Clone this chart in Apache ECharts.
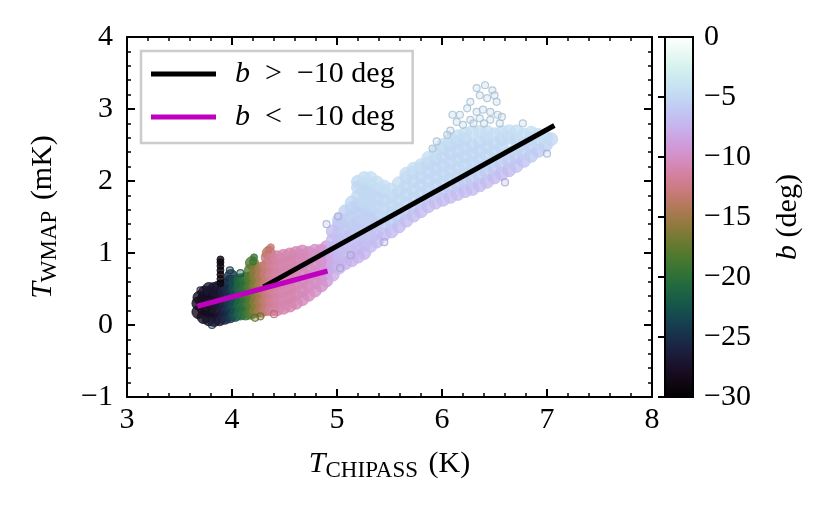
<!DOCTYPE html>
<html><head><meta charset="utf-8">
<script src="https://cdn.jsdelivr.net/npm/echarts@6/dist/echarts.min.js"></script>
<style>html,body{margin:0;padding:0;background:#fff}#c{width:832px;height:510px}</style>
</head><body><div id="c"></div>
<script>
// ---- axis limits / tick values ----
const xLimits = [3, 8];
const yLimits = [-1, 4];
const bLimits = [-30, 0];
const xTickStep = 1, yTickStep = 1, bTickStep = 5;

// ---- fitted lines (T_CHIPASS, T_WMAP) ----
const fitHigh = [[4.30, 0.53], [7.07, 2.77]];   // b > -10 deg
const fitLow  = [[3.67, 0.26], [4.91, 0.75]];   // b < -10 deg

// ---- scatter points [T_CHIPASS, T_WMAP, b] ----
const darkPts = [
 [3.68,0.18,-28],[3.68,0.30,-28],[3.69,0.38,-28],
 [3.73,0.11,-28],[3.73,0.23,-28],[3.73,0.35,-28],[3.74,0.45,-28],
 [3.78,0.08,-27.5],[3.78,0.20,-28],[3.78,0.32,-27.5],[3.79,0.44,-28],[3.78,0.50,-27],
 [3.83,0.07,-27],[3.83,0.19,-28],[3.83,0.31,-27],[3.84,0.43,-28],[3.83,0.50,-27],
 [3.88,0.08,-27],[3.88,0.20,-27],[3.88,0.32,-26.5],[3.88,0.44,-27],[3.87,0.52,-27],
 [3.93,0.10,-26],[3.93,0.22,-26],[3.93,0.34,-25.5],[3.93,0.46,-26],[3.94,0.55,-25.5],
 [3.98,0.12,-25],[3.98,0.24,-24.5],[3.98,0.36,-24],[3.98,0.48,-25],[3.98,0.60,-25],[3.99,0.68,-25]
];
const greenPts = [
 [4.03,0.14,-23],[4.03,0.26,-23],[4.03,0.38,-23],[4.03,0.50,-23],[4.03,0.60,-23],
 [4.08,0.16,-21],[4.08,0.28,-21],[4.08,0.40,-21],[4.08,0.52,-21],[4.08,0.62,-21],
 [4.13,0.16,-20],[4.13,0.28,-20],[4.13,0.40,-19.5],[4.13,0.52,-20],[4.13,0.64,-20],
 [4.18,0.17,-18],[4.18,0.29,-18],[4.18,0.41,-18],[4.18,0.53,-18],[4.18,0.65,-18],[4.18,0.76,-18],[4.19,0.86,-18]
];
const brownPts = [
 [4.23,0.20,-16],[4.23,0.32,-16],[4.23,0.44,-16],[4.23,0.56,-16],[4.23,0.68,-16],[4.23,0.76,-16],
 [4.28,0.20,-14.5],[4.28,0.32,-14.5],[4.28,0.44,-14.5],[4.28,0.56,-14.5],[4.28,0.68,-14.5],[4.28,0.78,-14.5],
 [4.33,0.22,-13],[4.33,0.34,-13],[4.33,0.46,-13],[4.33,0.58,-13],[4.33,0.70,-13],[4.33,0.82,-13],[4.34,0.94,-13],[4.35,1.00,-13.5],
 [4.38,0.22,-12],[4.38,0.34,-12],[4.38,0.46,-12],[4.38,0.58,-12],[4.38,0.70,-12],[4.38,0.82,-12],[4.38,0.92,-12]
];
const pinkPts = [
 [4.43,0.22,-11.5],[4.43,0.34,-11.5],[4.43,0.46,-11.5],[4.43,0.58,-11.5],[4.43,0.70,-11.5],[4.43,0.82,-11.5],[4.43,0.94,-11.5],
 [4.49,0.24,-11],[4.49,0.36,-11],[4.49,0.48,-11],[4.49,0.60,-11],[4.49,0.72,-11],[4.49,0.84,-11],[4.49,0.96,-11],
 [4.55,0.27,-11],[4.55,0.39,-11],[4.55,0.51,-11],[4.55,0.63,-11],[4.55,0.75,-11],[4.55,0.87,-11],[4.55,0.98,-11],
 [4.61,0.31,-11],[4.61,0.43,-11],[4.61,0.55,-11],[4.61,0.67,-11],[4.61,0.79,-11],[4.61,0.91,-11],[4.61,1.00,-11],
 [4.67,0.36,-10.5],[4.67,0.48,-10.5],[4.67,0.60,-10.5],[4.67,0.72,-10.5],[4.67,0.84,-10.5],[4.67,0.96,-10.5],[4.67,1.02,-10.5],
 [4.73,0.42,-10.5],[4.73,0.54,-10.5],[4.73,0.66,-10.5],[4.73,0.78,-10.5],[4.73,0.90,-10.5],[4.73,1.00,-10.5],
 [4.79,0.48,-10],[4.79,0.60,-10],[4.79,0.72,-10],[4.79,0.84,-10],[4.79,0.96,-10],[4.79,1.03,-10],
 [4.85,0.55,-10],[4.85,0.67,-10],[4.85,0.79,-10],[4.85,0.91,-10],[4.85,1.03,-10],
 [4.90,0.62,-9.5],[4.90,0.74,-9.5],[4.90,0.86,-9.5],[4.90,0.98,-9.5],[4.90,1.08,-9.5]
];
const lilacPts = [
 [4.96,0.70,-8],[4.96,0.82,-8],[4.96,0.94,-8],[4.96,1.06,-7.5],[4.96,1.18,-7],[4.96,1.30,-7],
 [5.02,0.80,-7.5],[5.02,0.92,-7.5],[5.02,1.04,-7],[5.02,1.16,-7],[5.02,1.28,-6.5],[5.02,1.40,-6.5],[5.02,1.46,-6],
 [5.08,0.86,-7.5],[5.08,0.98,-7],[5.08,1.10,-7],[5.08,1.22,-6.5],[5.08,1.34,-6],[5.08,1.46,-6],[5.08,1.58,-5.5],
 [5.14,0.90,-7.5],[5.14,1.02,-7],[5.14,1.14,-6.5],[5.14,1.26,-6.5],[5.14,1.38,-6],[5.14,1.50,-5.5],[5.14,1.62,-5.5],[5.14,1.70,-5],
 [5.20,0.95,-7.5],[5.20,1.07,-7],[5.20,1.19,-6.5],[5.20,1.31,-6],[5.20,1.43,-6],[5.20,1.55,-5.5],[5.20,1.67,-5.5],[5.20,1.79,-5],[5.20,1.91,-5],[5.20,1.99,-5],
 [5.26,1.00,-7.5],[5.26,1.12,-7],[5.26,1.24,-6.5],[5.26,1.36,-6],[5.26,1.48,-5.5],[5.26,1.60,-5.5],[5.26,1.72,-5],[5.26,1.84,-5],[5.26,1.96,-5],[5.26,2.04,-4.5],
 [5.32,1.10,-7],[5.32,1.22,-6.5],[5.32,1.34,-6],[5.32,1.46,-5.5],[5.32,1.58,-5.5],[5.32,1.70,-5],[5.32,1.82,-5],[5.32,1.94,-5],[5.32,2.04,-4.5],
 [5.38,1.16,-7],[5.38,1.28,-6.5],[5.38,1.40,-6],[5.38,1.52,-5.5],[5.38,1.64,-5],[5.38,1.76,-5],[5.38,1.88,-5],[5.38,1.98,-4.5]
];
const bluePts = [
 [5.45,1.26,-7],[5.45,1.38,-6],[5.45,1.50,-5],[5.45,1.62,-5],[5.45,1.74,-5],[5.45,1.86,-5],[5.45,1.92,-4.5],
 [5.52,1.30,-7],[5.52,1.42,-6],[5.52,1.54,-5],[5.52,1.66,-5],[5.52,1.78,-5],[5.52,1.88,-4.5],
 [5.59,1.37,-7],[5.59,1.49,-6],[5.59,1.61,-5],[5.59,1.73,-5],[5.59,1.85,-5],[5.59,1.97,-4.5],
 [5.66,1.45,-7],[5.66,1.57,-6],[5.66,1.69,-5],[5.66,1.81,-5],[5.66,1.93,-5],[5.66,2.05,-5],[5.66,2.10,-4.5],
 [5.73,1.52,-7],[5.73,1.64,-6],[5.73,1.76,-5],[5.73,1.88,-5],[5.73,2.00,-5],[5.73,2.12,-5],[5.73,2.17,-4.5],
 [5.80,1.58,-7],[5.80,1.70,-6],[5.80,1.82,-5],[5.80,1.94,-5],[5.80,2.06,-5],[5.80,2.18,-5],[5.80,2.22,-4.5],
 [5.87,1.65,-7],[5.87,1.77,-6],[5.87,1.89,-5],[5.87,2.01,-5],[5.87,2.13,-5],[5.87,2.25,-5],[5.87,2.32,-4.5],
 [5.94,1.70,-7],[5.94,1.82,-6],[5.94,1.94,-5],[5.94,2.06,-5],[5.94,2.18,-5],[5.94,2.30,-5],[5.94,2.40,-4.5],
 [6.01,1.74,-7],[6.01,1.86,-6],[6.01,1.98,-5],[6.01,2.10,-5],[6.01,2.22,-5],[6.01,2.34,-5],[6.01,2.46,-5],[6.01,2.50,-4.5],
 [6.08,1.78,-7],[6.08,1.90,-6],[6.08,2.02,-5],[6.08,2.14,-5],[6.08,2.26,-5],[6.08,2.38,-5],[6.08,2.50,-5],[6.08,2.58,-4.5],
 [6.15,1.82,-7],[6.15,1.94,-6],[6.15,2.06,-5],[6.15,2.18,-5],[6.15,2.30,-5],[6.15,2.42,-5],[6.15,2.54,-5],[6.15,2.62,-4.5],
 [6.22,1.86,-7],[6.22,1.98,-6],[6.22,2.10,-5],[6.22,2.22,-5],[6.22,2.34,-5],[6.22,2.46,-5],[6.22,2.58,-5],[6.22,2.66,-4.5],
 [6.29,1.89,-7],[6.29,2.01,-6],[6.29,2.13,-5],[6.29,2.25,-5],[6.29,2.37,-5],[6.29,2.49,-5],[6.29,2.68,-4.5],
 [6.36,1.94,-7],[6.36,2.06,-6],[6.36,2.18,-5],[6.36,2.30,-5],[6.36,2.42,-5],[6.36,2.54,-5],[6.36,2.68,-4.5],
 [6.43,1.99,-7],[6.43,2.11,-6],[6.43,2.23,-5],[6.43,2.35,-5],[6.43,2.47,-5],[6.43,2.59,-5],[6.43,2.68,-4.5],
 [6.50,2.05,-7],[6.50,2.17,-6],[6.50,2.29,-5],[6.50,2.41,-5],[6.50,2.53,-5],[6.50,2.65,-4.5],
 [6.57,2.10,-7],[6.57,2.22,-6],[6.57,2.34,-5],[6.57,2.46,-5],[6.57,2.58,-5],[6.57,2.68,-4.5],
 [6.64,2.15,-7],[6.64,2.27,-6],[6.64,2.39,-5],[6.64,2.60,-5],[6.64,2.69,-4.5],
 [6.71,2.21,-6.5],[6.71,2.33,-6],[6.71,2.45,-5],[6.71,2.57,-5],[6.71,2.69,-4.5],
 [6.78,2.28,-6.5],[6.78,2.40,-5.5],[6.78,2.52,-5],[6.78,2.64,-4.5],
 [6.85,2.35,-6],[6.85,2.47,-5.5],[6.85,2.59,-5],[6.85,2.67,-4.5],
 [6.92,2.42,-6],[6.92,2.54,-5],[6.92,2.64,-4.5],
 [6.99,2.50,-5.5],[6.99,2.60,-4.5],
 [7.04,2.58,-5]
];
const thinPts = [
 [3.89,0.58,-29],[3.89,0.64,-29],[3.89,0.70,-29],[3.89,0.76,-29],[3.89,0.82,-29],[3.89,0.87,-29],[3.89,0.91,-29],
 [4.20,0.88,-19],[4.21,0.94,-19],
 [4.35,1.05,-13.5],[4.37,1.08,-13]
];
const strayPts = [
 [6.33,3.29,-4.5],[6.41,3.33,-4.5],[6.48,3.26,-4.5],[6.50,3.19,-4.5],[6.36,3.19,-4.5],[6.27,3.10,-4.5],
 [6.43,3.15,-4.5],[6.52,3.10,-4.5],[6.24,3.01,-4.5],[6.33,2.96,-4.5],[6.39,2.99,-4.5],[6.46,2.96,-4.5],
 [6.53,2.92,-4.5],[6.17,2.92,-4.5],[6.10,2.92,-4.5],[6.14,2.82,-4.5],[6.27,2.85,-4.5],[6.36,2.87,-4.5],
 [6.46,2.85,-4.5],[6.57,2.89,-4.5],[6.77,2.80,-4.5],[6.08,2.70,-4.5],[5.95,2.55,-4.5],[5.91,2.45,-4.5],
 [6.05,2.64,-4.5],[6.30,2.80,-4.5],[6.40,2.80,-4.5],[6.55,2.80,-4.5],[6.20,2.78,-4.5],
 [4.90,1.40,-6],[5.01,1.51,-6],[5.03,0.79,-7],[5.13,0.97,-7],[5.45,1.15,-6.5],[6.60,1.98,-6.5],[7.00,2.38,-5.5],
 [3.81,0.00,-25],[3.98,0.76,-24],[4.08,0.72,-22],[4.27,0.12,-16],[4.22,0.10,-17],[4.40,0.15,-12],[3.70,0.48,-27]
];

// ---- styling ----
const F = "'Liberation Serif','DejaVu Serif',serif";
const FS = 30;
const FSUB = 23;
const MAG = '#bf00bf';

function cubehelix(t) {
  t = Math.max(0, Math.min(1, t));
  const phi = 2 * Math.PI * (0.5 / 3 - 1.5 * t);
  const a = t * (1 - t) / 2;
  const c = Math.cos(phi), s = Math.sin(phi);
  const r = t + a * (-0.14861 * c + 1.78277 * s);
  const g = t + a * (-0.29227 * c - 0.90649 * s);
  const b = t + a * (1.97294 * c);
  const f = v => Math.round(255 * Math.max(0, Math.min(1, v)));
  return [f(r), f(g), f(b)];
}
const tOf = b => (b - bLimits[0]) / (bLimits[1] - bLimits[0]);
function toItems(pts, alpha, edgeShade) {
  return pts.map(p => {
    const rgb = cubehelix(tOf(p[2]));
    const c = rgb.join(',');
    const e = rgb.map(v => Math.round(v * edgeShade)).join(',');
    return { value: p, itemStyle: { color: 'rgba(' + c + ',' + alpha + ')', borderColor: 'rgb(' + e + ')' } };
  });
}
const gradStops = [];
for (let i = 0; i <= 40; i++) {
  const c = cubehelix(i / 40);
  gradStops.push({ offset: i / 40, color: 'rgb(' + c.join(',') + ')' });
}
const minus = v => String(v).replace('-', '\u2212');

const tickLine = { color: '#000', width: 2 };
const richName = {
  i: { fontStyle: 'italic', fontFamily: F, fontSize: FS, color: '#000' },
  s: { fontFamily: F, fontSize: FSUB, color: '#000', padding: [12, 3, 0, 0] }
};
function mainAxis(pos, lim, step, showLabel, extra) {
  return Object.assign({
    type: 'value', gridIndex: 0, position: pos, min: lim[0], max: lim[1], interval: step,
    axisLine: { show: true, onZero: false, lineStyle: { color: '#000', width: 2 } },
    axisTick: { show: true, inside: true, length: 8, lineStyle: tickLine },
    minorTick: { show: true, splitNumber: 5, length: 4, lineStyle: { color: '#000', width: 1.5 } },
    splitLine: { show: false },
    axisLabel: { show: showLabel, color: '#000', fontFamily: F, fontSize: FS, margin: pos === 'left' ? 14 : 8, formatter: minus },
    z: 5
  }, extra || {});
}

const chart = echarts.init(document.getElementById('c'), null, { renderer: 'canvas' });
chart.setOption({
  animation: false,
  backgroundColor: '#fff',
  grid: [
    { left: 127, top: 37, width: 525, height: 360 },
    { left: 665, top: 37, width: 28, height: 360 }
  ],
  xAxis: [
    mainAxis('bottom', xLimits, xTickStep, true, {
      name: '{i|T}{s|CHIPASS} (K)', nameLocation: 'middle', nameGap: 50,
      nameTextStyle: { color: '#000', fontFamily: F, fontSize: FS, rich: richName }
    }),
    mainAxis('top', xLimits, xTickStep, false),
    { type: 'value', gridIndex: 1, min: 0, max: 1, show: false }
  ],
  yAxis: [
    mainAxis('left', yLimits, yTickStep, true, {
      name: '{i|T}{s|WMAP} (mK)', nameLocation: 'middle', nameGap: 66, nameRotate: 90,
      nameTextStyle: { color: '#000', fontFamily: F, fontSize: FS, rich: richName }
    }),
    mainAxis('right', yLimits, yTickStep, false),
    {
      type: 'value', gridIndex: 1, position: 'right', min: bLimits[0], max: bLimits[1], interval: bTickStep,
      axisLine: { show: false },
      axisTick: { show: true, inside: true, length: 7, lineStyle: tickLine },
      splitLine: { show: false },
      axisLabel: { color: '#000', fontFamily: F, fontSize: FS, margin: 11, formatter: minus },
      name: '{i|b} (deg)', nameLocation: 'middle', nameGap: 80, nameRotate: 90,
      nameTextStyle: { color: '#000', fontFamily: F, fontSize: FS,
        rich: { i: { fontStyle: 'italic', fontFamily: F, fontSize: FS, color: '#000' } } },
      z: 10
    }
  ],
  legend: {
    orient: 'vertical', left: 141, top: 51,
    padding: [8, 18, 11, 10], itemGap: 13,
    itemWidth: 65, itemHeight: 5, icon: 'rect',
    borderColor: '#cccccc', borderWidth: 2.5, backgroundColor: '#fff',
    data: ['high', 'low'],
    formatter: n => n === 'high' ? '{i|b}  >  \u221210 deg' : '{i|b}  <  \u221210 deg',
    textStyle: { color: '#000', fontFamily: F, fontSize: FS, padding: [0, 0, 0, 14],
      rich: { i: { fontStyle: 'italic', fontFamily: F, fontSize: FS, color: '#000' } } }
  },
  series: [
    { type: 'scatter', xAxisIndex: 0, yAxisIndex: 0, symbolSize: 13, silent: true,
      data: toItems([].concat(darkPts, greenPts, brownPts, pinkPts, lilacPts, bluePts), 1, 1) },
    { type: 'scatter', xAxisIndex: 0, yAxisIndex: 0, symbolSize: 7, silent: true,
      data: toItems(thinPts, 1, 1) },
    { type: 'scatter', xAxisIndex: 0, yAxisIndex: 0, symbolSize: 7, silent: true,
      itemStyle: { borderWidth: 1.2 }, data: toItems(strayPts, 0.45, 0.85) },
    { name: 'high', type: 'line', xAxisIndex: 0, yAxisIndex: 0, data: fitHigh, showSymbol: false,
      symbol: 'none', color: '#000', lineStyle: { color: '#000', width: 5 }, z: 4 },
    { name: 'low', type: 'line', xAxisIndex: 0, yAxisIndex: 0, data: fitLow, showSymbol: false,
      symbol: 'none', color: MAG, lineStyle: { color: MAG, width: 5 }, z: 4 },
    { type: 'custom', xAxisIndex: 2, yAxisIndex: 2, silent: true, z: 1,
      data: [[0, bLimits[0], 1, bLimits[1]]], encode: { x: [0, 2], y: [1, 3] },
      renderItem: (params, api) => {
        const p0 = api.coord([api.value(0), api.value(1)]);
        const p1 = api.coord([api.value(2), api.value(3)]);
        return { type: 'rect',
          shape: { x: p0[0], y: p1[1], width: p1[0] - p0[0], height: p0[1] - p1[1] },
          style: { fill: new echarts.graphic.LinearGradient(0, 1, 0, 0, gradStops), stroke: '#000', lineWidth: 2 } };
      } }
  ]
});
</script>
</body></html>
